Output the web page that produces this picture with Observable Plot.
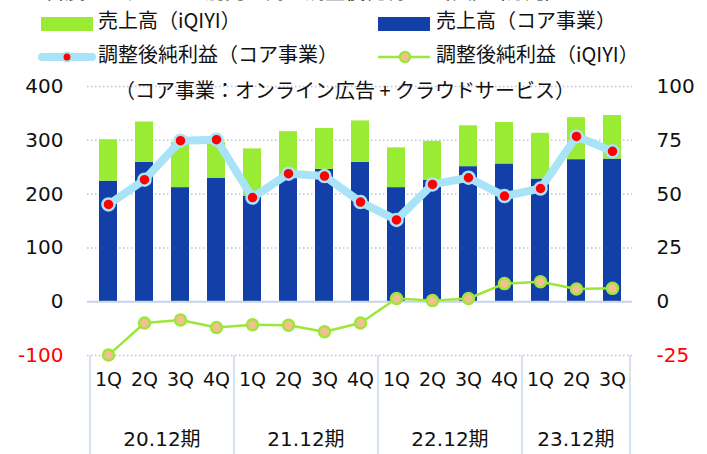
<!DOCTYPE html>
<html><head><meta charset="utf-8">
<script src="https://cdn.jsdelivr.net/npm/d3@7"></script>
<script src="https://cdn.jsdelivr.net/npm/@observablehq/plot@0.6"></script>
<style>
body{margin:0;background:#fff;}
#wrap{position:relative;width:707px;height:454px;overflow:hidden;background:#fff;}
.t{position:absolute;font-family:"Noto Sans CJK JP","DejaVu Sans",sans-serif;font-size:20px;line-height:20px;white-space:nowrap;color:#111;}
#legend{position:absolute;left:0;top:0;width:707px;height:70px;}
#chart{position:absolute;left:0;top:70px;}
</style>
</head><body>
<div id="wrap">
  <div class="t" style="left:45px;top:-19px;">百度のセグメント別売上高と調整後純利益の推移（億元）</div>
  <div id="legend">
    <svg width="707" height="70" style="position:absolute;left:0;top:0">
      <rect x="41" y="17" width="52" height="14" fill="#99eb33"/>
      <rect x="378" y="17" width="52" height="14" fill="#123fa8"/>
      <line x1="42" x2="92" y1="57" y2="57" stroke="#a9e3f8" stroke-width="8" stroke-linecap="round"/>
      <circle cx="67" cy="57" r="4.5" fill="#ff0000" stroke="#a9e3f8" stroke-width="2"/>
      <line x1="378" x2="430" y1="57" y2="57" stroke="#9de63a" stroke-width="2.5"/>
      <circle cx="405" cy="57" r="5" fill="#f5be90" stroke="#9de63a" stroke-width="2.5"/>
    </svg>
    <div class="t" style="left:98px;top:10px;">売上高（iQIYI）</div>
    <div class="t" style="left:436px;top:10px;">売上高（コア事業）</div>
    <div class="t" style="left:98px;top:44px;">調整後純利益（コア事業）</div>
    <div class="t" style="left:436px;top:44px;">調整後純利益（iQIYI）</div>
  </div>
  <div id="chart"></div>
  <div class="t" style="left:115px;top:80px;">（コア事業：オンライン広告 + クラウドサービス）</div>
</div>
<script>
const quarters = ["1Q","2Q","3Q","4Q","1Q","2Q","3Q","4Q","1Q","2Q","3Q","4Q","1Q","2Q","3Q"];
const periods = ["20.12期","21.12期","22.12期","23.12期"];
const periodSizes = [4,4,4,3];
const coreRevenue  = [224,259,212,229,196,233,246,259,212,226,251,256,228,264,265];
const iqiyiRevenue = [77, 75, 84, 67, 88, 83, 76, 77, 74, 72, 76, 77, 85, 78, 81];
const coreProfit   = [45.2,56.7,74.8,75.3,48.4,59.5,58.4,46.3,38.0,54.5,57.6,49.1,52.6,76.8,69.9];
const iqiyiProfit  = [-24.8,-9.9,-8.5,-12.0,-10.7,-10.9,-14.0,-9.9,1.5,0.5,1.5,8.4,9.3,5.9,6.2];
const leftTicks = [400,300,200,100,0,-100];
const rightTicks = [100,75,50,25,0,-25];
const ratio = 4; // left axis units per right axis unit

// build rows
const periodOf = [];
periods.forEach((p,i)=>{ for(let k=0;k<periodSizes[i];k++) periodOf.push(p); });
const rows = quarters.map((q,i)=>({
  id: periodOf[i]+"-"+q, q, period: periodOf[i],
  core: coreRevenue[i], iq: iqiyiRevenue[i],
  cp: coreProfit[i], ip: iqiyiProfit[i]
}));
const cats = rows.map(d=>d.id);

function groupMark(index, scales, values, dims) {
  const x = scales.x;
  const step = x.step(), bw = x.bandwidth(), gap = (step - bw)/2;
  const bottom = dims.height - dims.marginBottom;
  const g = d3.create("svg:g");
  let start = 0;
  const edges = [];
  periods.forEach((p,i)=>{
    const n = periodSizes[i];
    const x0 = x(cats[start]) - gap;
    const x1 = x(cats[start+n-1]) + bw + gap;
    edges.push(x0); if (i === periods.length-1) edges.push(x1);
    g.append("text").attr("x",(x0+x1)/2).attr("y",bottom+84)
      .attr("text-anchor","middle").attr("dominant-baseline","central")
      .attr("font-size",20).attr("fill","#111")
      .attr("font-family","'DejaVu Sans','Noto Sans CJK JP',sans-serif").text(p);
    start += n;
  });
  edges.forEach(e=>{
    g.append("line").attr("x1",e).attr("x2",e).attr("y1",bottom).attr("y2",dims.height)
      .attr("stroke","#c8d8ee").attr("stroke-width",1.5);
  });
  return g.node();
}

const chart = Plot.plot({
  width: 707, height: 384,
  marginTop: 16, marginBottom: 99, marginLeft: 87, marginRight: 75,
  x: {type:"band", domain: cats, paddingInner: 0.5, paddingOuter: 0.25, axis: null},
  y: {domain: [-100, 400], axis: null},
  style: {fontFamily: "'DejaVu Sans','Noto Sans CJK JP',sans-serif", background: "transparent", overflow: "visible"},
  marks: [
    Plot.gridY([400,300,200,100,-100], {stroke:"#b3c6e2", strokeOpacity:1, strokeWidth:1.5, strokeDasharray:"1.5,2.5"}),
    Plot.barY(rows, {x:"id", y1:0, y2:"core", fill:"#123fa8"}),
    Plot.barY(rows, {x:"id", y1:"core", y2:d=>d.core+d.iq, fill:"#99eb33"}),
    Plot.ruleY([0], {stroke:"#c5d4ea", strokeWidth:2}),
    Plot.line(rows, {x:"id", y:d=>d.cp*ratio, stroke:"#a9e3f8", strokeWidth:8, strokeLinejoin:"round", strokeLinecap:"round"}),
    Plot.dot(rows, {x:"id", y:d=>d.cp*ratio, r:6, fill:"#ff0000", stroke:"#a9e3f8", strokeWidth:2.5}),
    Plot.line(rows, {x:"id", y:d=>d.ip*ratio, stroke:"#9de63a", strokeWidth:2.5}),
    Plot.dot(rows, {x:"id", y:d=>d.ip*ratio, r:5.5, fill:"#f5be90", stroke:"#9de63a", strokeWidth:2.5}),
    Plot.text(leftTicks, {y:d=>d, text:d=>String(d), frameAnchor:"left", dx:-24, textAnchor:"end", fontSize:20, fill:d=>d<0?"#ff0000":"#111"}),
    Plot.text(rightTicks, {y:d=>d*ratio, text:d=>String(d), frameAnchor:"right", dx:24, textAnchor:"start", fontSize:20, fill:d=>d<0?"#ff0000":"#111"}),
    Plot.text(rows, {x:"id", text:"q", frameAnchor:"bottom", dy:30, fontSize:19, fill:"#111"}),
    groupMark
  ]
});
document.getElementById("chart").appendChild(chart);
</script>
</body></html>
